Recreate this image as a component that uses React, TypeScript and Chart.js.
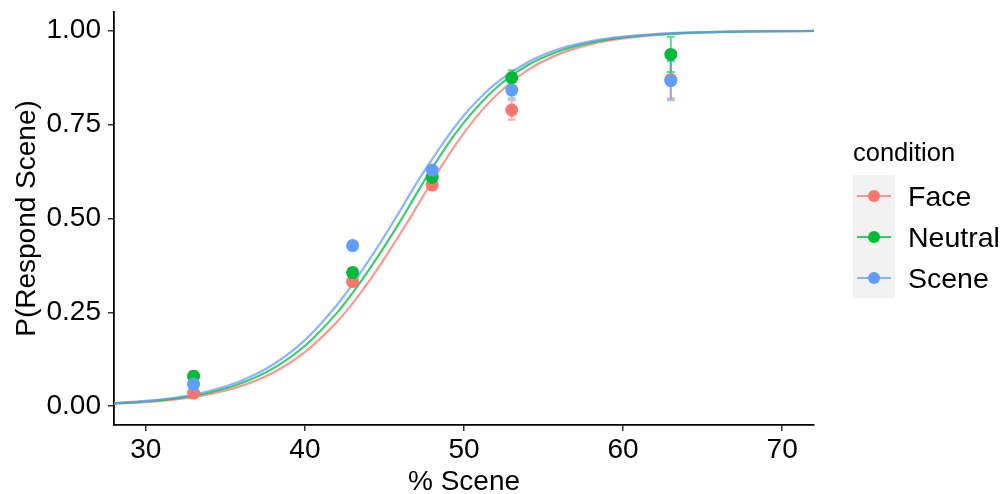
import React, { useEffect, useRef } from "react";
import { Chart, registerables } from "chart.js";

Chart.register(...registerables);

const conditions = ["Face", "Neutral", "Scene"];
const colors = ["#F8766D", "#00BA38", "#619CFF"];
const lineColors = ["rgba(248,118,109,0.75)", "rgba(0,186,56,0.75)", "rgba(97,156,255,0.75)"];
const barColors = ["rgba(248,118,109,0.6)", "rgba(0,186,56,0.6)", "rgba(97,156,255,0.6)"];

const pointX = [33, 43, 48, 53, 63];
const faceMean = [0.035, 0.332, 0.589, 0.789, 0.87];
const faceSE = [0.007, 0.009, 0.008, 0.026, 0.05];
const neutralMean = [0.08, 0.356, 0.61, 0.875, 0.937];
const neutralSE = [0.013, 0.01, 0.009, 0.02, 0.047];
const sceneMean = [0.059, 0.428, 0.629, 0.842, 0.867];
const sceneSE = [0.01, 0.012, 0.01, 0.022, 0.052];

const curveX = [28, 30, 32, 34, 36, 38, 40, 42, 43, 44, 45, 46, 47, 48, 49, 50, 51, 52, 54, 56, 58, 60, 62, 64, 66, 68, 70, 72];
const faceCurve = [0.0065, 0.0111, 0.019, 0.0321, 0.0539, 0.0891, 0.144, 0.224, 0.274, 0.331, 0.394, 0.46, 0.529, 0.6, 0.667, 0.728, 0.782, 0.827, 0.895, 0.9385, 0.9646, 0.9798, 0.9886, 0.9936, 0.9964, 0.998, 0.9989, 0.9994];
const neutralCurve = [0.0075, 0.0127, 0.0216, 0.0366, 0.0612, 0.1007, 0.161, 0.248, 0.302, 0.362, 0.426, 0.493, 0.565, 0.634, 0.699, 0.756, 0.805, 0.847, 0.908, 0.946, 0.969, 0.9825, 0.9901, 0.9944, 0.9969, 0.9983, 0.999, 0.9995];
const sceneCurve = [0.0083, 0.0142, 0.024, 0.0406, 0.0678, 0.111, 0.176, 0.269, 0.325, 0.387, 0.453, 0.522, 0.593, 0.658, 0.72, 0.775, 0.821, 0.86, 0.916, 0.952, 0.9725, 0.9844, 0.9912, 0.995, 0.9972, 0.9984, 0.9991, 0.9995];

const xTicks = [30, 40, 50, 60, 70];
const yTicks = [0, 0.25, 0.5, 0.75, 1];
const xTitle = "% Scene";
const yTitle = "P(Respond Scene)";
const legendTitle = "condition";

const FONT = '"Liberation Sans", Arial, Helvetica, sans-serif';
const FS = 28;

const means = [faceMean, neutralMean, sceneMean];
const ses = [faceSE, neutralSE, sceneSE];
const curves = [faceCurve, neutralCurve, sceneCurve];

const errorBarPlugin = {
  id: "errorBars",
  afterDatasetDraw(chart: any, args: any) {
    if (args.index !== 3) return;
    const ctx = chart.ctx;
    const xs = chart.scales.x;
    const ys = chart.scales.y;
    ctx.save();
    ctx.lineWidth = 2;
    for (let c = 0; c < 3; c++) {
      ctx.strokeStyle = barColors[c];
      for (let i = 0; i < pointX.length; i++) {
        const px = xs.getPixelForValue(pointX[i]);
        const lo = ys.getPixelForValue(means[c][i] - ses[c][i]);
        const hi = ys.getPixelForValue(means[c][i] + ses[c][i]);
        ctx.beginPath();
        ctx.moveTo(px, lo);
        ctx.lineTo(px, hi);
        ctx.moveTo(px - 4, lo);
        ctx.lineTo(px + 4, lo);
        ctx.moveTo(px - 4, hi);
        ctx.lineTo(px + 4, hi);
        ctx.stroke();
      }
    }
    ctx.restore();
  },
};

export default function App() {
  const ref = useRef<HTMLCanvasElement>(null);
  useEffect(() => {
    document.body.style.margin = "0";
    const pointSets = [2, 1, 0].map((c, k) => ({
      label: conditions[c],
      data: pointX.map((x, i) => ({ x, y: means[c][i] })),
      backgroundColor: colors[c],
      borderWidth: 0,
      pointRadius: 6.5,
      showLine: false,
      order: k + 1,
    }));
    const curveSets = [2, 1, 0].map((c, k) => ({
      label: conditions[c] + " fit",
      data: curveX.map((x, i) => ({ x, y: curves[c][i] })),
      borderColor: lineColors[c],
      borderWidth: 2.2,
      pointRadius: 0,
      showLine: true,
      cubicInterpolationMode: "monotone",
      order: k + 4,
    }));
    const chart = new Chart(ref.current!, {
      type: "scatter",
      data: { datasets: [...pointSets, ...curveSets] as any },
      options: {
        animation: false,
        responsive: false,
        devicePixelRatio: 1,
        layout: { padding: { left: 0, top: 12, right: 189, bottom: 0 } },
        plugins: { legend: { display: false }, tooltip: { enabled: false } },
        scales: {
          x: {
            type: "linear",
            min: 28,
            max: 72,
            afterBuildTicks: (s: any) => {
              s.ticks = xTicks.map((v) => ({ value: v }));
            },
            afterFit: (s: any) => {
              s.height = 69;
              s.paddingLeft = 0;
              s.paddingRight = 0;
            },
            ticks: { color: "#000", font: { family: FONT, size: FS }, padding: 2 },
            grid: { drawOnChartArea: false, drawTicks: true, tickLength: 6, color: "#333", lineWidth: 1.5 },
            border: { display: true, color: "#000", width: 1.8 },
            title: { display: true, text: xTitle, color: "#000", font: { family: FONT, size: FS, lineHeight: 0.86 }, padding: { top: 0, bottom: 0 } },
          },
          y: {
            type: "linear",
            min: -0.05,
            max: 1.05,
            afterBuildTicks: (s: any) => {
              s.ticks = yTicks.map((v) => ({ value: v }));
            },
            afterFit: (s: any) => {
              s.width = 114;
              s.paddingTop = 0;
              s.paddingBottom = 0;
            },
            ticks: { color: "#000", font: { family: FONT, size: FS }, padding: 7, callback: (v: any) => Number(v).toFixed(2) },
            grid: { drawOnChartArea: false, drawTicks: true, tickLength: 6, color: "#333", lineWidth: 1.5 },
            border: { display: true, color: "#000", width: 1.8 },
            title: { display: true, text: yTitle, color: "#000", font: { family: FONT, size: FS, lineHeight: 1 }, padding: { top: 13, bottom: 0 } },
          },
        },
      } as any,
      plugins: [errorBarPlugin],
    });
    return () => chart.destroy();
  }, []);

  return (
    <div style={{ position: "relative", width: 1003, height: 494, fontFamily: FONT }}>
      <canvas ref={ref} width={1003} height={494} style={{ position: "absolute", left: 0, top: 0 }} />
      <div style={{ position: "absolute", left: 853, top: 137, fontSize: 25.5, lineHeight: "30px", color: "#000" }}>{legendTitle}</div>
      <div style={{ position: "absolute", left: 853, top: 175, width: 42, height: 123, background: "#F2F2F2" }} />
      {conditions.map((c, i) => (
        <React.Fragment key={c}>
          <div style={{ position: "absolute", left: 857, top: 175 + i * 41 + 19.5, width: 34, height: 2, background: lineColors[i] }} />
          <div style={{ position: "absolute", left: 868, top: 175 + i * 41 + 14.5, width: 12, height: 12, borderRadius: 6, background: colors[i] }} />
          <div style={{ position: "absolute", left: 908, top: 175 + i * 41 + 5, fontSize: 28.5, lineHeight: "32px", color: "#000" }}>{c}</div>
        </React.Fragment>
      ))}
    </div>
  );
}
